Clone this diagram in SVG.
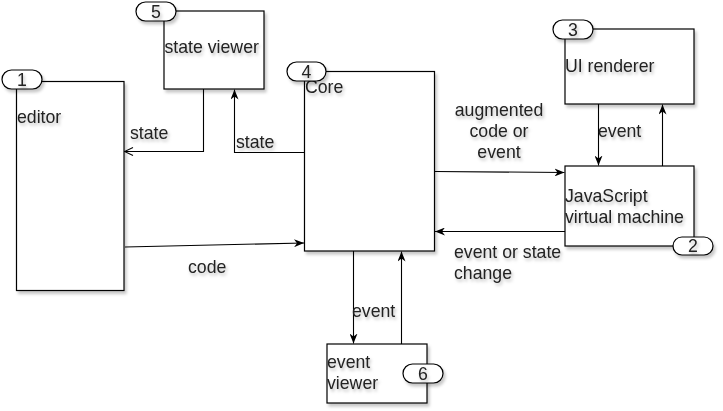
<svg xmlns="http://www.w3.org/2000/svg" width="723" height="411" viewBox="0 0 723 411">
<style>
  .box{fill:#fff;stroke:#000;stroke-width:1.2;filter:url(#sh)}
  .badge{fill:#fff;stroke:#000;stroke-width:1.2;filter:url(#sh)}
  .t{font-family:"Liberation Sans",Arial,sans-serif;font-size:17.7px;fill:#222;filter:url(#tsh)}
  .c{text-anchor:middle}
  .ln{fill:none;stroke:#000;stroke-width:1.1}
</style>
<defs>
  <filter id="sh" x="-20%" y="-20%" width="150%" height="150%">
    <feDropShadow dx="2" dy="3" stdDeviation="1.5" flood-color="#000" flood-opacity="0.22"/>
  </filter>
  <filter id="tsh" x="-20%" y="-30%" width="150%" height="180%">
    <feDropShadow dx="1.5" dy="2.5" stdDeviation="1.5" flood-color="#000" flood-opacity="0.25"/>
  </filter>
  <marker id="arr" viewBox="0 0 10 8" refX="10" refY="4" markerWidth="10" markerHeight="8" markerUnits="userSpaceOnUse" orient="auto">
    <path d="M0,0 L10,4 L0,8 L3,4 z" fill="#000"/>
  </marker>
  <marker id="open" viewBox="0 0 10 10" refX="9.5" refY="5" markerWidth="10" markerHeight="10" markerUnits="userSpaceOnUse" orient="auto">
    <path d="M1,1 L9.5,5 L1,9" fill="none" stroke="#000" stroke-width="1.1"/>
  </marker>
</defs>

<g id="connectors">
  <path class="ln" d="M203.5,89 V151.5 H124.5" marker-end="url(#open)"/>
  <path class="ln" d="M304.5,152.5 H234.5 V89.5" marker-end="url(#arr)"/>
  <path class="ln" d="M125,247 L304,243" marker-end="url(#arr)"/>
  <path class="ln" d="M434.5,171.5 L564.5,172.5" marker-end="url(#arr)"/>
  <path class="ln" d="M565,231.5 H435" marker-end="url(#arr)"/>
  <path class="ln" d="M598.5,104 V165.5" marker-end="url(#arr)"/>
  <path class="ln" d="M662.5,166 V104.5" marker-end="url(#arr)"/>
  <path class="ln" d="M353.5,251 V343.5" marker-end="url(#arr)"/>
  <path class="ln" d="M401.5,344 V251.5" marker-end="url(#arr)"/>
  <text class="t" x="130" y="139">state</text>
  <text class="t" x="236" y="148">state</text>
  <text class="t" x="188" y="273">code</text>
  <text class="t c" x="499" y="116">augmented</text>
  <text class="t c" x="499" y="137">code or</text>
  <text class="t c" x="499" y="158">event</text>
  <text class="t" x="454" y="258">event or state</text>
  <text class="t" x="454" y="279">change</text>
  <text class="t" x="598" y="137">event</text>
  <text class="t" x="352" y="317">event</text>
</g>

<g id="editor">
  <rect class="box" x="16.5" y="81.5" width="107.5" height="209"/>
  <text class="t" x="17" y="123">editor</text>
  <rect class="badge" x="2" y="70" width="40" height="19" rx="9.5"/>
  <text class="t c" x="22" y="85.5">1</text>
</g>

<g id="state-viewer">
  <rect class="box" x="164" y="11" width="100" height="78"/>
  <text class="t" x="164.5" y="53">state viewer</text>
  <rect class="badge" x="136" y="2" width="40" height="19" rx="9.5"/>
  <text class="t c" x="156" y="17.5">5</text>
</g>

<g id="core">
  <rect class="box" x="304.5" y="71.5" width="130" height="179.5"/>
  <text class="t" x="305" y="93">Core</text>
  <rect class="badge" x="287" y="62" width="39" height="19" rx="9.5"/>
  <text class="t c" x="306.5" y="77.5">4</text>
</g>

<g id="ui-renderer">
  <rect class="box" x="565" y="29" width="129" height="75"/>
  <text class="t" x="565" y="72">UI renderer</text>
  <rect class="badge" x="553" y="20" width="40" height="19" rx="9.5"/>
  <text class="t c" x="573" y="35.5">3</text>
</g>

<g id="js-vm">
  <rect class="box" x="565" y="166" width="129" height="80"/>
  <text class="t" x="565" y="202">JavaScript</text>
  <text class="t" x="565" y="223">virtual machine</text>
  <rect class="badge" x="673" y="237" width="40" height="18" rx="9"/>
  <text class="t c" x="693" y="252">2</text>
</g>

<g id="event-viewer">
  <rect class="box" x="327" y="344" width="100" height="59"/>
  <text class="t" x="327" y="368">event</text>
  <text class="t" x="327" y="389">viewer</text>
  <rect class="badge" x="403" y="364" width="40" height="19" rx="9.5"/>
  <text class="t c" x="423" y="379.5">6</text>
</g>
</svg>
